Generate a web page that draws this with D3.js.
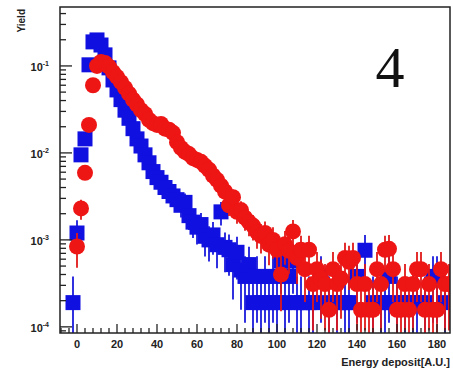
<!DOCTYPE html>
<html>
<head>
<meta charset="utf-8">
<script src="https://cdn.jsdelivr.net/npm/d3@7"></script>
<style>
  body { margin: 0; background: #fff; }
  svg { display: block; }
</style>
</head>
<body>
<div id="chart"></div>
<script>
// bin centres (A.U.), one bin every 2 units
const binStart = -2, binStep = 2;

// blue squares, yield per bin (null = empty bin)
const blueYield = [
  1.9e-4, 1.2e-3, 9.5e-3, 1.45e-2, 0.103, 0.189, 0.199, 0.174, 0.134, 0.095,
  0.069, 0.053, 0.041, 0.031, 0.025, 0.019, 0.0145, 0.012, 0.0095, 0.0077,
  0.0061, 0.0052, 0.0046, 0.0040, 0.0036, 0.0032, 0.0029, 0.0025, 0.0027, 0.0019,
  0.0016, 0.0014, 0.0015, 0.0011, 0.0010, 0.00114, 0.00088, 0.0021, 0.00082, 0.00077,
  0.00052, 0.00072, 0.00045, 0.00038, 0.00052, 1.9e-4, 3.8e-4, 1.9e-4, 3.8e-4, 1.9e-4,
  3.8e-4, 1.9e-4, 5.7e-4, 1.9e-4, 3.8e-4, 5.7e-4, 1.9e-4, 1.9e-4, null, 1.9e-4,
  1.9e-4, null, 3.8e-4, null, 1.9e-4, null, 1.9e-4, null, 1.9e-4, 1.9e-4,
  null, 3.8e-4, null, 7.6e-4, null, 1.9e-4, null, 1.9e-4, 1.9e-4, 3.8e-4,
  null, 1.9e-4, null, 1.9e-4, null, 1.9e-4, 1.9e-4, null, 1.9e-4, null,
  3.8e-4, 3.8e-4, null, 1.9e-4, null
];

// red circles, yield per bin
const redYield = [
  null, 0.00084, 0.0023, 0.0059, 0.021, 0.060, 0.10, 0.111, 0.108, 0.098,
  0.085, 0.075, 0.065, 0.056, 0.048, 0.041, 0.036, 0.031, 0.028, 0.024,
  0.022, 0.021, 0.0215, 0.019, 0.0185, 0.017, 0.0133, 0.0114, 0.0103, 0.0097,
  0.0087, 0.0083, 0.0079, 0.0071, 0.0064, 0.0055, 0.0049, 0.0042, 0.0036, 0.0025,
  0.0031, 0.0021, 0.0022, 0.0018, 0.0016, 0.00146, 0.00123, 0.00111, 0.0012, 0.00088,
  0.0010, 0.00077, 0.00040, 0.00089, 0.00075, 0.00125, 0.00062, 0.00077, 0.00046, 0.00077,
  3.1e-4, 4.6e-4, 3.6e-4, 3.1e-4, 1.57e-4, 4.6e-4, 3.1e-4, 3.6e-4, 6.2e-4, 5.6e-4,
  6.2e-4, 3.1e-4, 1.57e-4, 3.1e-4, 1.57e-4, 1.57e-4, 4.6e-4, 3.1e-4, 7.7e-4, 7.9e-4,
  4.6e-4, 1.57e-4, 1.57e-4, 3.1e-4, 1.57e-4, 3.1e-4, 4.6e-4, 4.6e-4, 1.57e-4, 3.1e-4,
  1.57e-4, 1.57e-4, 4.6e-4, 3.1e-4, 3.1e-4
];

// yield of a single entry, used for the poisson error bars
const blueUnit = 1.9e-4, redUnit = 1.55e-4;

const xTickValues = [0, 20, 40, 60, 80, 100, 120, 140, 160, 180];
const yTickValues = [1e-4, 1e-3, 1e-2, 1e-1];
const yTickLabels = ['-4', '-3', '-2', '-1'];

const width = 453, height = 375;
const frame = {left: 60, right: 450, top: 7, bottom: 333};
const yMin = 8.5e-5;

const x = d3.scaleLinear().domain([-8.5, 186.5]).range([frame.left, frame.right]);
const y = d3.scaleLog().domain([yMin, 0.476]).range([frame.bottom, frame.top]);

const svg = d3.select('#chart').append('svg')
  .attr('width', width)
  .attr('height', height);

svg.append('defs').append('clipPath').attr('id', 'plot-clip')
  .append('rect')
  .attr('x', frame.left).attr('y', frame.top)
  .attr('width', frame.right - frame.left).attr('height', frame.bottom - frame.top);

function toPoints(arr, unit){
  return arr.map((v, i) => ({x: binStart + i * binStep, y: v, unit: unit}))
    .filter(d => d.y != null);
}
const bluePts = toPoints(blueYield, blueUnit);
const redPts = toPoints(redYield, redUnit);

const plot = svg.append('g').attr('clip-path', 'url(#plot-clip)');

// vertical poisson error bars, clamped to the bottom of the frame
function drawErrors(g, pts, color){
  g.selectAll(null)
    .data(pts)
    .enter().append('line')
      .attr('x1', d => x(d.x)).attr('x2', d => x(d.x))
      .attr('y1', d => {
        const e = Math.sqrt(d.y / d.unit) * d.unit;
        return d.y - e > yMin ? y(d.y - e) : frame.bottom + 2;
      })
      .attr('y2', d => y(d.y + Math.sqrt(d.y / d.unit) * d.unit))
      .style('stroke', color)
      .style('stroke-width', 1.8);
}

const sq = 15;
const blueG = plot.append('g');
drawErrors(blueG, bluePts, '#1a1adc');
blueG.selectAll('rect')
  .data(bluePts)
  .enter().append('rect')
    .attr('x', d => x(d.x) - sq / 2)
    .attr('y', d => y(d.y) - sq / 2)
    .attr('width', sq).attr('height', sq)
    .style('fill', '#1010e0');

const redG = plot.append('g');
drawErrors(redG, redPts, '#e01818');
redG.selectAll('circle')
  .data(redPts)
  .enter().append('circle')
    .attr('cx', d => x(d.x))
    .attr('cy', d => y(d.y))
    .attr('r', 8)
    .style('fill', '#ee1515');

// frame
svg.append('rect')
  .attr('x', frame.left).attr('y', frame.top)
  .attr('width', frame.right - frame.left).attr('height', frame.bottom - frame.top)
  .style('fill', 'none')
  .style('stroke', '#222')
  .style('stroke-width', 1.5);

// y axis ticks (log, inward)
const yMinor = [];
for (let e = -5; e <= 0; e++){
  for (let k = 1; k <= 9; k++){
    const v = k * Math.pow(10, e);
    if (v >= yMin && v <= 0.476) yMinor.push({v: v, major: k == 1});
  }
}
svg.append('g').selectAll('line')
  .data(yMinor)
  .enter().append('line')
    .attr('x1', frame.left)
    .attr('x2', d => frame.left + (d.major ? 12 : 6))
    .attr('y1', d => y(d.v)).attr('y2', d => y(d.v))
    .style('stroke', '#222')
    .style('stroke-width', 1.3);

const yLab = svg.append('g')
  .style('font-family', '"Liberation Sans", Arial, sans-serif')
  .style('font-weight', 'bold')
  .style('fill', '#222');
yTickValues.forEach((v, i) => {
  const t = yLab.append('text')
    .attr('x', 49)
    .attr('y', y(v) + 5)
    .attr('text-anchor', 'end')
    .style('font-size', '11px');
  t.append('tspan').text('10');
  t.append('tspan').attr('dy', -5).style('font-size', '7px').text(yTickLabels[i]);
});

// x axis ticks (inward, every 4 units)
const xTicks = d3.range(-8, 187, 4);
svg.append('g').selectAll('line')
  .data(xTicks)
  .enter().append('line')
    .attr('x1', d => x(d)).attr('x2', d => x(d))
    .attr('y1', frame.bottom)
    .attr('y2', d => frame.bottom - (d % 20 == 0 ? 9 : 5))
    .style('stroke', '#222')
    .style('stroke-width', 1.3);

svg.append('g').selectAll('text')
  .data(xTickValues)
  .enter().append('text')
    .attr('x', d => x(d))
    .attr('y', 348)
    .attr('text-anchor', 'middle')
    .style('font-family', '"Liberation Sans", Arial, sans-serif')
    .style('font-weight', 'bold')
    .style('font-size', '11px')
    .style('fill', '#222')
    .text(d => d);

// axis titles
svg.append('text')
  .attr('x', 450).attr('y', 366)
  .attr('text-anchor', 'end')
  .style('font-family', '"Liberation Sans", Arial, sans-serif')
  .style('font-weight', 'bold')
  .style('font-size', '11px')
  .style('fill', '#222')
  .text('Energy deposit[A.U.]');

svg.append('text')
  .attr('transform', 'translate(25, 9) rotate(-90)')
  .attr('text-anchor', 'end')
  .style('font-family', '"Liberation Sans", Arial, sans-serif')
  .style('font-weight', 'bold')
  .style('font-size', '10px')
  .style('fill', '#222')
  .text('Yield');

// panel number
svg.append('text')
  .attr('x', 390).attr('y', 87)
  .attr('text-anchor', 'middle')
  .style('font-family', '"Liberation Serif", "Times New Roman", serif')
  .style('font-size', '58px')
  .style('fill', '#111')
  .text('4');
</script>
</body>
</html>
